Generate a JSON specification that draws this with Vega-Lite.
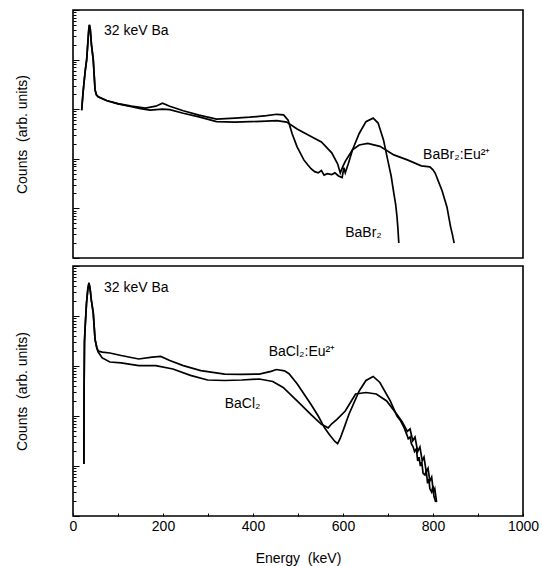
{
  "$schema": "https://vega.github.io/schema/vega-lite/v6.json",
  "padding": {"left": 14, "top": 8, "right": 0, "bottom": 0},
  "background": "white",
  "spacing": 4,
  "config": {
    "font": "Liberation Sans",
    "view": {"stroke": "black", "strokeWidth": 1.6},
    "axis": {"grid": false, "domain": false, "tickColor": "black", "labelColor": "black", "titleColor": "black", "labelFontSize": 14, "titleFontSize": 14, "titleFontWeight": "normal", "tickWidth": 1}
  },
  "datasets": {
    "top": [
      {"E": 19.3, "c": 955, "s": "BaBr2"}, {"E": 22, "c": 2000, "s": "BaBr2"}, {"E": 24.4, "c": 3400, "s": "BaBr2"}, {"E": 27.5, "c": 6300, "s": "BaBr2"}, {"E": 30.4, "c": 10000, "s": "BaBr2"}, {"E": 33, "c": 22000, "s": "BaBr2"}, {"E": 35, "c": 40000, "s": "BaBr2"}, {"E": 36.5, "c": 50100, "s": "BaBr2"}, {"E": 38.5, "c": 40000, "s": "BaBr2"}, {"E": 41, "c": 20000, "s": "BaBr2"}, {"E": 45, "c": 10000, "s": "BaBr2"}, {"E": 47, "c": 5000, "s": "BaBr2"}, {"E": 49, "c": 2450, "s": "BaBr2"}, {"E": 52, "c": 1950, "s": "BaBr2"}, {"E": 56, "c": 1780, "s": "BaBr2"},
      {"E": 75, "c": 1500, "s": "BaBr2"}, {"E": 100, "c": 1300, "s": "BaBr2"}, {"E": 130, "c": 1150, "s": "BaBr2"}, {"E": 161, "c": 1050, "s": "BaBr2"}, {"E": 184, "c": 1150, "s": "BaBr2"}, {"E": 199, "c": 1320, "s": "BaBr2"}, {"E": 215, "c": 1150, "s": "BaBr2"}, {"E": 245, "c": 930, "s": "BaBr2"}, {"E": 280, "c": 760, "s": "BaBr2"}, {"E": 319, "c": 630, "s": "BaBr2"}, {"E": 360, "c": 660, "s": "BaBr2"}, {"E": 393, "c": 690, "s": "BaBr2"}, {"E": 430, "c": 740, "s": "BaBr2"}, {"E": 453, "c": 790, "s": "BaBr2"}, {"E": 468, "c": 770, "s": "BaBr2"}, {"E": 478, "c": 600, "s": "BaBr2"}, {"E": 487, "c": 320, "s": "BaBr2"}, {"E": 498, "c": 174, "s": "BaBr2"}, {"E": 513, "c": 95, "s": "BaBr2"}, {"E": 522, "c": 75, "s": "BaBr2"}, {"E": 529, "c": 63, "s": "BaBr2"}, {"E": 537, "c": 55, "s": "BaBr2"}, {"E": 545, "c": 52, "s": "BaBr2"}, {"E": 552, "c": 58, "s": "BaBr2"}, {"E": 558, "c": 47, "s": "BaBr2"}, {"E": 565, "c": 50, "s": "BaBr2"}, {"E": 575, "c": 48, "s": "BaBr2"}, {"E": 582, "c": 52, "s": "BaBr2"}, {"E": 590, "c": 45, "s": "BaBr2"}, {"E": 598, "c": 42, "s": "BaBr2"}, {"E": 602, "c": 66, "s": "BaBr2"}, {"E": 605, "c": 52, "s": "BaBr2"}, {"E": 612, "c": 80, "s": "BaBr2"}, {"E": 621, "c": 151, "s": "BaBr2"}, {"E": 636, "c": 324, "s": "BaBr2"}, {"E": 651, "c": 560, "s": "BaBr2"}, {"E": 667, "c": 660, "s": "BaBr2"}, {"E": 678, "c": 525, "s": "BaBr2"}, {"E": 690, "c": 240, "s": "BaBr2"}, {"E": 701, "c": 81, "s": "BaBr2"}, {"E": 707, "c": 45, "s": "BaBr2"}, {"E": 713, "c": 20, "s": "BaBr2"}, {"E": 717, "c": 12, "s": "BaBr2"}, {"E": 720, "c": 6.8, "s": "BaBr2"}, {"E": 722, "c": 4, "s": "BaBr2"}, {"E": 724, "c": 2, "s": "BaBr2"},
      {"E": 19.3, "c": 955, "s": "BaBr2Eu"}, {"E": 22, "c": 2000, "s": "BaBr2Eu"}, {"E": 24.4, "c": 3400, "s": "BaBr2Eu"}, {"E": 27.5, "c": 6300, "s": "BaBr2Eu"}, {"E": 30.4, "c": 10000, "s": "BaBr2Eu"}, {"E": 33, "c": 22000, "s": "BaBr2Eu"}, {"E": 35, "c": 40000, "s": "BaBr2Eu"}, {"E": 36.5, "c": 50100, "s": "BaBr2Eu"}, {"E": 38.5, "c": 40000, "s": "BaBr2Eu"}, {"E": 41, "c": 20000, "s": "BaBr2Eu"}, {"E": 45, "c": 10000, "s": "BaBr2Eu"}, {"E": 47, "c": 5000, "s": "BaBr2Eu"}, {"E": 49, "c": 2450, "s": "BaBr2Eu"}, {"E": 52, "c": 1950, "s": "BaBr2Eu"}, {"E": 56, "c": 1780, "s": "BaBr2Eu"},
      {"E": 75, "c": 1480, "s": "BaBr2Eu"}, {"E": 100, "c": 1280, "s": "BaBr2Eu"}, {"E": 130, "c": 1120, "s": "BaBr2Eu"}, {"E": 150, "c": 1030, "s": "BaBr2Eu"}, {"E": 171, "c": 955, "s": "BaBr2Eu"}, {"E": 199, "c": 1000, "s": "BaBr2Eu"}, {"E": 215, "c": 980, "s": "BaBr2Eu"}, {"E": 245, "c": 830, "s": "BaBr2Eu"}, {"E": 280, "c": 700, "s": "BaBr2Eu"}, {"E": 319, "c": 560, "s": "BaBr2Eu"}, {"E": 360, "c": 550, "s": "BaBr2Eu"}, {"E": 393, "c": 560, "s": "BaBr2Eu"}, {"E": 430, "c": 575, "s": "BaBr2Eu"}, {"E": 453, "c": 590, "s": "BaBr2Eu"}, {"E": 475, "c": 550, "s": "BaBr2Eu"}, {"E": 498, "c": 400, "s": "BaBr2Eu"}, {"E": 529, "c": 282, "s": "BaBr2Eu"}, {"E": 552, "c": 219, "s": "BaBr2Eu"}, {"E": 575, "c": 132, "s": "BaBr2Eu"}, {"E": 588, "c": 79, "s": "BaBr2Eu"}, {"E": 594, "c": 52, "s": "BaBr2Eu"}, {"E": 600, "c": 71, "s": "BaBr2Eu"}, {"E": 605, "c": 89, "s": "BaBr2Eu"}, {"E": 621, "c": 151, "s": "BaBr2Eu"}, {"E": 636, "c": 190, "s": "BaBr2Eu"}, {"E": 655, "c": 204, "s": "BaBr2Eu"}, {"E": 682, "c": 178, "s": "BaBr2Eu"}, {"E": 713, "c": 120, "s": "BaBr2Eu"}, {"E": 743, "c": 95, "s": "BaBr2Eu"}, {"E": 774, "c": 72, "s": "BaBr2Eu"}, {"E": 793, "c": 69, "s": "BaBr2Eu"}, {"E": 800, "c": 60, "s": "BaBr2Eu"}, {"E": 805, "c": 51, "s": "BaBr2Eu"}, {"E": 812, "c": 35, "s": "BaBr2Eu"}, {"E": 820, "c": 23, "s": "BaBr2Eu"}, {"E": 831, "c": 10.7, "s": "BaBr2Eu"}, {"E": 836, "c": 6, "s": "BaBr2Eu"}, {"E": 839, "c": 4.3, "s": "BaBr2Eu"}, {"E": 843, "c": 3, "s": "BaBr2Eu"}, {"E": 847, "c": 2, "s": "BaBr2Eu"}
    ],
    "bottom": [
      {"E": 24.2, "c": 11, "s": "BaCl2Eu"}, {"E": 24.6, "c": 300, "s": "BaCl2Eu"}, {"E": 25.5, "c": 3000, "s": "BaCl2Eu"}, {"E": 27, "c": 6000, "s": "BaCl2Eu"}, {"E": 30, "c": 18000, "s": "BaCl2Eu"}, {"E": 33, "c": 35000, "s": "BaCl2Eu"}, {"E": 35.5, "c": 46000, "s": "BaCl2Eu"}, {"E": 38, "c": 35000, "s": "BaCl2Eu"}, {"E": 41, "c": 20000, "s": "BaCl2Eu"}, {"E": 45, "c": 11500, "s": "BaCl2Eu"}, {"E": 49, "c": 3400, "s": "BaCl2Eu"}, {"E": 53, "c": 2300, "s": "BaCl2Eu"}, {"E": 56, "c": 2000, "s": "BaCl2Eu"},
      {"E": 65, "c": 1900, "s": "BaCl2Eu"}, {"E": 82, "c": 1820, "s": "BaCl2Eu"}, {"E": 107, "c": 1620, "s": "BaCl2Eu"}, {"E": 146, "c": 1380, "s": "BaCl2Eu"}, {"E": 176, "c": 1510, "s": "BaCl2Eu"}, {"E": 195, "c": 1550, "s": "BaCl2Eu"}, {"E": 215, "c": 1290, "s": "BaCl2Eu"}, {"E": 245, "c": 1020, "s": "BaCl2Eu"}, {"E": 284, "c": 810, "s": "BaCl2Eu"}, {"E": 337, "c": 690, "s": "BaCl2Eu"}, {"E": 375, "c": 680, "s": "BaCl2Eu"}, {"E": 414, "c": 690, "s": "BaCl2Eu"}, {"E": 440, "c": 780, "s": "BaCl2Eu"}, {"E": 452, "c": 850, "s": "BaCl2Eu"}, {"E": 470, "c": 800, "s": "BaCl2Eu"}, {"E": 480, "c": 700, "s": "BaCl2Eu"}, {"E": 498, "c": 440, "s": "BaCl2Eu"}, {"E": 529, "c": 170, "s": "BaCl2Eu"}, {"E": 545, "c": 100, "s": "BaCl2Eu"}, {"E": 559, "c": 58, "s": "BaCl2Eu"}, {"E": 570, "c": 42, "s": "BaCl2Eu"}, {"E": 582, "c": 31, "s": "BaCl2Eu"}, {"E": 588, "c": 28, "s": "BaCl2Eu"}, {"E": 594, "c": 36, "s": "BaCl2Eu"}, {"E": 603, "c": 60, "s": "BaCl2Eu"}, {"E": 613, "c": 107, "s": "BaCl2Eu"}, {"E": 636, "c": 316, "s": "BaCl2Eu"}, {"E": 651, "c": 513, "s": "BaCl2Eu"}, {"E": 667, "c": 617, "s": "BaCl2Eu"}, {"E": 682, "c": 468, "s": "BaCl2Eu"}, {"E": 705, "c": 200, "s": "BaCl2Eu"}, {"E": 720, "c": 100, "s": "BaCl2Eu"}, {"E": 728, "c": 80, "s": "BaCl2Eu"}, {"E": 736, "c": 58, "s": "BaCl2Eu"}, {"E": 742, "c": 42, "s": "BaCl2Eu"}, {"E": 745, "c": 35, "s": "BaCl2Eu"}, {"E": 749, "c": 38, "s": "BaCl2Eu"}, {"E": 752, "c": 28, "s": "BaCl2Eu"}, {"E": 756, "c": 24, "s": "BaCl2Eu"}, {"E": 759, "c": 19.5, "s": "BaCl2Eu"}, {"E": 763, "c": 22, "s": "BaCl2Eu"}, {"E": 766, "c": 12.6, "s": "BaCl2Eu"}, {"E": 769, "c": 15, "s": "BaCl2Eu"}, {"E": 772, "c": 10, "s": "BaCl2Eu"}, {"E": 775, "c": 12, "s": "BaCl2Eu"}, {"E": 778, "c": 7.1, "s": "BaCl2Eu"}, {"E": 782, "c": 6.6, "s": "BaCl2Eu"}, {"E": 785, "c": 8, "s": "BaCl2Eu"}, {"E": 788, "c": 4.5, "s": "BaCl2Eu"}, {"E": 791, "c": 5.5, "s": "BaCl2Eu"}, {"E": 793, "c": 3.5, "s": "BaCl2Eu"}, {"E": 797, "c": 3, "s": "BaCl2Eu"}, {"E": 800, "c": 4, "s": "BaCl2Eu"}, {"E": 802, "c": 2.5, "s": "BaCl2Eu"}, {"E": 806, "c": 1.9, "s": "BaCl2Eu"},
      {"E": 24.2, "c": 11, "s": "BaCl2"}, {"E": 24.6, "c": 300, "s": "BaCl2"}, {"E": 25.5, "c": 3000, "s": "BaCl2"}, {"E": 27, "c": 6000, "s": "BaCl2"}, {"E": 30, "c": 18000, "s": "BaCl2"}, {"E": 33, "c": 35000, "s": "BaCl2"}, {"E": 35.5, "c": 46000, "s": "BaCl2"}, {"E": 38, "c": 35000, "s": "BaCl2"}, {"E": 41, "c": 20000, "s": "BaCl2"}, {"E": 45, "c": 11500, "s": "BaCl2"}, {"E": 49, "c": 3400, "s": "BaCl2"}, {"E": 53, "c": 2300, "s": "BaCl2"}, {"E": 56, "c": 1900, "s": "BaCl2"},
      {"E": 65, "c": 1450, "s": "BaCl2"}, {"E": 82, "c": 1200, "s": "BaCl2"}, {"E": 107, "c": 1150, "s": "BaCl2"}, {"E": 146, "c": 1020, "s": "BaCl2"}, {"E": 184, "c": 1020, "s": "BaCl2"}, {"E": 222, "c": 870, "s": "BaCl2"}, {"E": 261, "c": 650, "s": "BaCl2"}, {"E": 299, "c": 525, "s": "BaCl2"}, {"E": 337, "c": 513, "s": "BaCl2"}, {"E": 375, "c": 525, "s": "BaCl2"}, {"E": 414, "c": 550, "s": "BaCl2"}, {"E": 444, "c": 490, "s": "BaCl2"}, {"E": 467, "c": 372, "s": "BaCl2"}, {"E": 498, "c": 200, "s": "BaCl2"}, {"E": 529, "c": 107, "s": "BaCl2"}, {"E": 552, "c": 68, "s": "BaCl2"}, {"E": 567, "c": 58, "s": "BaCl2"}, {"E": 575, "c": 70, "s": "BaCl2"}, {"E": 586, "c": 85, "s": "BaCl2"}, {"E": 605, "c": 126, "s": "BaCl2"}, {"E": 628, "c": 275, "s": "BaCl2"}, {"E": 651, "c": 295, "s": "BaCl2"}, {"E": 674, "c": 275, "s": "BaCl2"}, {"E": 697, "c": 200, "s": "BaCl2"}, {"E": 720, "c": 107, "s": "BaCl2"}, {"E": 732, "c": 75, "s": "BaCl2"}, {"E": 743, "c": 49, "s": "BaCl2"}, {"E": 749, "c": 55, "s": "BaCl2"}, {"E": 755, "c": 32, "s": "BaCl2"}, {"E": 760, "c": 38, "s": "BaCl2"}, {"E": 766, "c": 19.5, "s": "BaCl2"}, {"E": 771, "c": 24, "s": "BaCl2"}, {"E": 776, "c": 12.6, "s": "BaCl2"}, {"E": 780, "c": 15, "s": "BaCl2"}, {"E": 785, "c": 7.6, "s": "BaCl2"}, {"E": 789, "c": 9, "s": "BaCl2"}, {"E": 793, "c": 5, "s": "BaCl2"}, {"E": 797, "c": 6, "s": "BaCl2"}, {"E": 801, "c": 3, "s": "BaCl2"}, {"E": 804, "c": 3.5, "s": "BaCl2"}, {"E": 808, "c": 1.9, "s": "BaCl2"}
    ],
    "topLabels": [
      {"E": 69, "c": 38000, "t": "32 keV Ba"},
      {"E": 778, "c": 120, "t": "BaBr₂:Eu²⁺"},
      {"E": 605, "c": 3.2, "t": "BaBr₂"}
    ],
    "bottomLabels": [
      {"E": 69, "c": 36300, "t": "32 keV Ba"},
      {"E": 435, "c": 1900, "t": "BaCl₂:Eu²⁺"},
      {"E": 337, "c": 170, "t": "BaCl₂"}
    ]
  },
  "vconcat": [
    {
      "width": 450,
      "height": 248,
      "layer": [
        {
          "data": {"name": "top"},
          "mark": {"type": "line", "color": "black", "strokeWidth": 1.7},
          "encoding": {
            "x": {"field": "E", "type": "quantitative", "scale": {"domain": [0, 1000]}, "axis": null},
            "y": {"field": "c", "type": "quantitative", "scale": {"type": "log", "domain": [1, 100000], "nice": false},
              "axis": {"title": "Counts\u00a0\u00a0(arb. units)", "values": [1,2,3,4,5,6,7,8,9,10,20,30,40,50,60,70,80,90,100,200,300,400,500,600,700,800,900,1000,2000,3000,4000,5000,6000,7000,8000,9000,10000,20000,30000,40000,50000,60000,70000,80000,90000,100000], "labels": false, "tickSize": {"condition": {"test": "abs(log(datum.value)/LN10 - round(log(datum.value)/LN10)) < 0.001", "value": -6}, "value": -3}, "titlePadding": 43}},
            "detail": {"field": "s"}
          }
        },
        {
          "data": {"name": "topLabels"},
          "mark": {"type": "text", "align": "left", "baseline": "middle", "fontSize": 14, "color": "black"},
          "encoding": {
            "x": {"field": "E", "type": "quantitative"},
            "y": {"field": "c", "type": "quantitative"},
            "text": {"field": "t"}
          }
        }
      ]
    },
    {
      "width": 450,
      "height": 250,
      "layer": [
        {
          "data": {"name": "bottom"},
          "mark": {"type": "line", "color": "black", "strokeWidth": 1.7},
          "encoding": {
            "x": {"field": "E", "type": "quantitative", "scale": {"domain": [0, 1000]},
              "axis": {"title": "Energy\u00a0\u00a0(keV)", "values": [0,100,200,300,400,500,600,700,800,900,1000], "format": "d", "labelExpr": "datum.value % 200 === 0 ? datum.label : ''", "tickSize": -3, "labelPadding": 6, "titlePadding": 18, "labelFlush": false}},
            "y": {"field": "c", "type": "quantitative", "scale": {"type": "log", "domain": [1, 100000], "nice": false},
              "axis": {"title": "Counts\u00a0\u00a0(arb. units)", "values": [1,2,3,4,5,6,7,8,9,10,20,30,40,50,60,70,80,90,100,200,300,400,500,600,700,800,900,1000,2000,3000,4000,5000,6000,7000,8000,9000,10000,20000,30000,40000,50000,60000,70000,80000,90000,100000], "labels": false, "tickSize": {"condition": {"test": "abs(log(datum.value)/LN10 - round(log(datum.value)/LN10)) < 0.001", "value": -6}, "value": -3}, "titlePadding": 43}},
            "detail": {"field": "s"}
          }
        },
        {
          "data": {"name": "bottomLabels"},
          "mark": {"type": "text", "align": "left", "baseline": "middle", "fontSize": 14, "color": "black"},
          "encoding": {
            "x": {"field": "E", "type": "quantitative"},
            "y": {"field": "c", "type": "quantitative"},
            "text": {"field": "t"}
          }
        }
      ]
    }
  ]
}
